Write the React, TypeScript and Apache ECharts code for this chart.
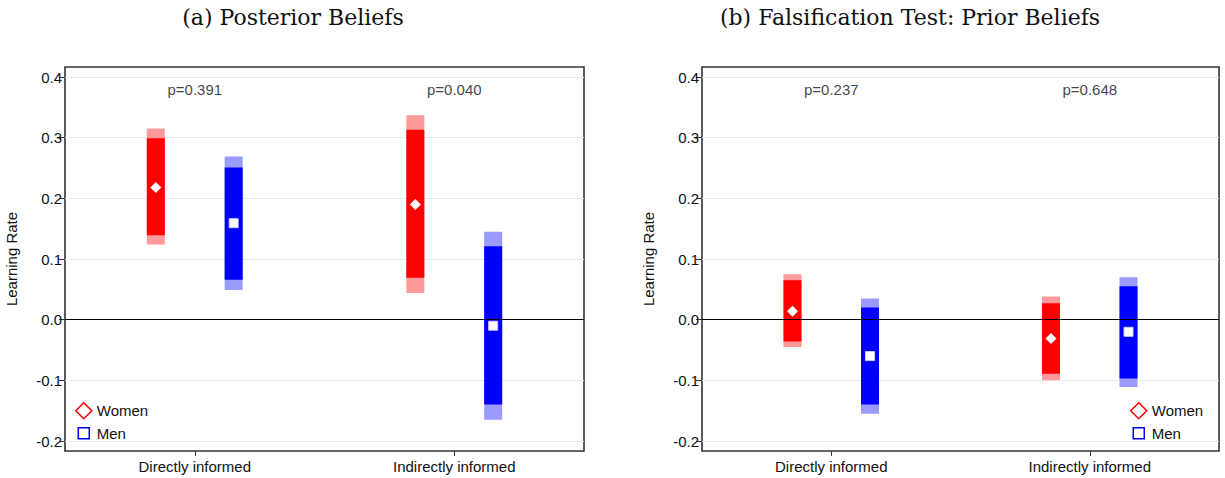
import React, { useEffect, useRef } from "react";
import * as echarts from "echarts";

const categories = ["Directly informed", "Indirectly informed"];
const panelTitles = ["(a) Posterior Beliefs", "(b) Falsification Test: Prior Beliefs"];

// Panel (a): posterior beliefs
const postWomenPoint = [0.218, 0.19];
const postWomenLo95 = [0.124, 0.044];
const postWomenHi95 = [0.315, 0.337];
const postWomenLo90 = [0.139, 0.069];
const postWomenHi90 = [0.299, 0.313];
const postMenPoint = [0.159, -0.01];
const postMenLo95 = [0.049, -0.165];
const postMenHi95 = [0.269, 0.145];
const postMenLo90 = [0.066, -0.14];
const postMenHi90 = [0.251, 0.121];
const postPvals = ["p=0.391", "p=0.040"];

// Panel (b): prior beliefs
const priorWomenPoint = [0.014, -0.031];
const priorWomenLo95 = [-0.045, -0.1];
const priorWomenHi95 = [0.075, 0.038];
const priorWomenLo90 = [-0.036, -0.089];
const priorWomenHi90 = [0.065, 0.027];
const priorMenPoint = [-0.06, -0.02];
const priorMenLo95 = [-0.155, -0.111];
const priorMenHi95 = [0.035, 0.07];
const priorMenLo90 = [-0.14, -0.097];
const priorMenHi90 = [0.02, 0.055];
const priorPvals = ["p=0.237", "p=0.648"];

const pLabelY = 0.38;

const RED = "#ff0000";
const RED_L = "#ff9a9a";
const BLUE = "#0000ff";
const BLUE_L = "#9a9aff";
const FONT = "'Liberation Sans', Arial, sans-serif";
const TXT = "#111";

export default function App() {
  const ref = useRef<HTMLDivElement>(null);
  useEffect(() => {
    document.body.style.margin = "0";
    const chart = echarts.init(ref.current!, undefined, { renderer: "svg" });

    const panels = [
      {
        left: 65, width: 519, legendLeft: 70,
        women: [postWomenPoint, postWomenLo95, postWomenHi95, postWomenLo90, postWomenHi90],
        men: [postMenPoint, postMenLo95, postMenHi95, postMenLo90, postMenHi90],
        pvals: postPvals,
      },
      {
        left: 702, width: 517, legendLeft: 1125,
        women: [priorWomenPoint, priorWomenLo95, priorWomenHi95, priorWomenLo90, priorWomenHi90],
        men: [priorMenPoint, priorMenLo95, priorMenHi95, priorMenLo90, priorMenHi90],
        pvals: priorPvals,
      },
    ];

    const grid: any[] = [];
    const xAxis: any[] = [];
    const yAxis: any[] = [];
    const series: any[] = [];
    const legend: any[] = [];

    const renderBand = (light: string, dark: string) => (params: any, api: any) => {
      const x = api.value(0);
      const p95a = api.coord([x, api.value(1)]);
      const p95b = api.coord([x, api.value(2)]);
      const p90a = api.coord([x, api.value(3)]);
      const p90b = api.coord([x, api.value(4)]);
      const w = 18;
      return {
        type: "group",
        children: [
          { type: "rect", shape: { x: p95a[0] - w / 2, y: p95b[1], width: w, height: p95a[1] - p95b[1] }, style: { fill: light } },
          { type: "rect", shape: { x: p90a[0] - w / 2, y: p90b[1], width: w, height: p90a[1] - p90b[1] }, style: { fill: dark } },
        ],
      };
    };

    panels.forEach((p, i) => {
      const frameGrid = i * 2;
      const dataGrid = i * 2 + 1;
      grid.push({ left: p.left, top: 67, width: p.width, height: 384, show: true, borderColor: "#333", borderWidth: 1.6, backgroundColor: "#fff" });
      grid.push({ left: p.left, top: 77, width: p.width, height: 364 });
      xAxis.push({
        type: "category", gridIndex: frameGrid, data: categories, boundaryGap: true,
        axisLine: { show: false },
        axisTick: { show: true, alignWithLabel: true, length: 5, lineStyle: { color: "#333" } },
        axisLabel: { fontSize: 15, fontFamily: FONT, color: TXT, margin: 8 },
      });
      xAxis.push({ type: "value", gridIndex: dataGrid, min: 0, max: 4, show: false });
      yAxis.push({ type: "value", gridIndex: frameGrid, min: 0, max: 1, show: false });
      yAxis.push({
        type: "value", gridIndex: dataGrid, min: -0.2, max: 0.4, interval: 0.1,
        name: "Learning Rate", nameLocation: "middle", nameGap: 46,
        nameTextStyle: { fontSize: 15, fontFamily: FONT, color: TXT },
        axisLine: { show: false },
        axisTick: { show: true, length: 6, lineStyle: { color: "#333" } },
        axisLabel: { fontSize: 15, fontFamily: FONT, color: TXT, margin: 3, formatter: (v: number) => v.toFixed(1) },
        splitLine: { show: true, lineStyle: { color: "#e3edf0", width: 1 } },
      });
      const xi = dataGrid;
      const mk = (arr: number[][], off: number) =>
        categories.map((_, k) => [k * 2 + 1 + off, arr[1][k], arr[2][k], arr[3][k], arr[4][k]]);
      series.push({
        type: "custom", xAxisIndex: xi, yAxisIndex: xi, renderItem: renderBand(RED_L, RED),
        data: mk(p.women, -0.3), z: 2, silent: true,
        markLine: {
          silent: true, symbol: "none", label: { show: false },
          lineStyle: { color: "#000", width: 1, type: "solid" },
          data: [{ yAxis: 0 }],
        },
      });
      series.push({
        type: "custom", xAxisIndex: xi, yAxisIndex: xi, renderItem: renderBand(BLUE_L, BLUE),
        data: mk(p.men, 0.3), z: 2, silent: true,
      });
      series.push({
        type: "scatter", name: "Women", xAxisIndex: xi, yAxisIndex: xi, symbol: "diamond", symbolSize: 11,
        itemStyle: { color: "#fff", borderColor: "#fff", borderWidth: 0, opacity: 1 }, z: 5,
        data: categories.map((_, k) => [k * 2 + 1 - 0.3, p.women[0][k]]),
      });
      series.push({
        type: "scatter", name: "Men", xAxisIndex: xi, yAxisIndex: xi, symbol: "rect", symbolSize: 9,
        itemStyle: { color: "#fff", borderColor: "#ccccff", borderWidth: 1, opacity: 1 }, z: 5,
        data: categories.map((_, k) => [k * 2 + 1 + 0.3, p.men[0][k]]),
      });
      series.push({
        type: "scatter", xAxisIndex: xi, yAxisIndex: xi, symbolSize: 0, silent: true,
        data: categories.map((_, k) => ({ value: [k * 2 + 1, pLabelY], name: p.pvals[k] })),
        label: { show: true, position: "inside", formatter: (d: any) => d.name, fontSize: 15, fontFamily: FONT, color: TXT },
      });
      legend.push({
        left: p.legendLeft, top: 397, orient: "vertical", itemWidth: 16, itemHeight: 16, itemGap: 5,
        textStyle: { fontSize: 15, fontFamily: FONT, color: TXT },
        data: [
          { name: "Women", icon: "diamond", itemStyle: { color: "#fff", borderColor: RED, borderWidth: 1.5 } },
          { name: "Men", icon: "path://M0,0 M2.5,2.5 L13.5,2.5 L13.5,13.5 L2.5,13.5 Z M16,16", itemStyle: { color: "#fff", borderColor: BLUE, borderWidth: 1.5 } },
        ],
        selectedMode: false,
      });
    });

    chart.setOption({
      animation: false,
      backgroundColor: "#fff",
      grid, xAxis, yAxis, series, legend,
      graphic: [
        { type: "text", x: 293, y: 17, style: { text: panelTitles[0], textAlign: "center", textVerticalAlign: "middle", font: "22px 'DejaVu Serif', serif", fill: "#111" } },
        { type: "text", x: 910, y: 17, style: { text: panelTitles[1], textAlign: "center", textVerticalAlign: "middle", font: "22px 'DejaVu Serif', serif", fill: "#111" } },
      ],
    });
    return () => chart.dispose();
  }, []);
  return <div ref={ref} style={{ width: 1225, height: 478 }} />;
}
